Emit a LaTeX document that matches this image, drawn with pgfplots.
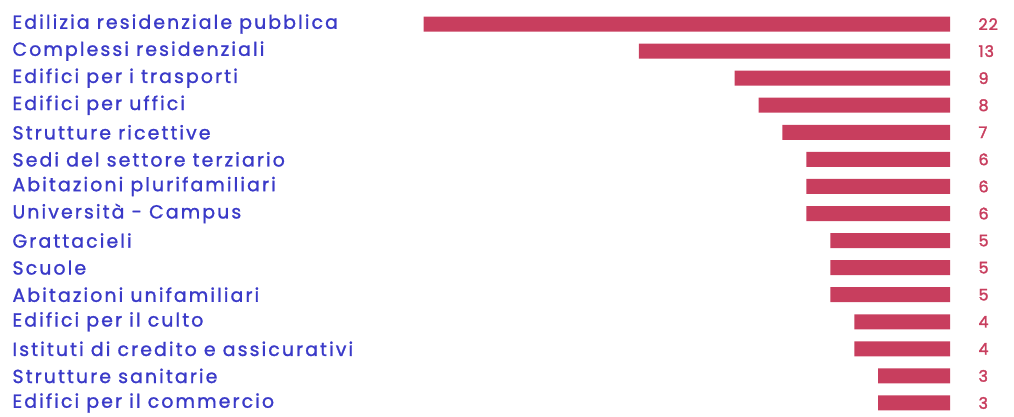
\documentclass[border=0pt]{standalone}
\usepackage{fontspec}
\setmainfont{Poppins}
\newfontfamily\labfont{Poppins}[FakeBold=1.2, LetterSpace=11]
\newfontfamily\valfont{Poppins}[FakeBold=2, LetterSpace=6]
\usepackage{pgfplots}
\usepackage{pgfplotstable}
\pgfplotsset{compat=1.18}
\definecolor{barc}{RGB}{200,62,94}
\definecolor{labc}{RGB}{58,58,200}
\pgfplotstableread{
idx value
0 22
1 13
2 9
3 8
4 7
5 6
6 6
7 6
8 5
9 5
10 5
11 4
12 4
13 3
14 3
}\data
\begin{document}
\begin{tikzpicture}[x=1bp,y=1bp]
\useasboundingbox (0,0) rectangle (1014,-416);
\begin{axis}[at={(390bp,-10.5bp)}, anchor=north west, scale only axis,
  width=560bp, height=406bp,
  x dir=reverse, xmin=0, xmax=23.4, ymin=-0.5, ymax=14.5, y dir=reverse,
  axis line style={draw=none}, tick style={draw=none}, xtick=\empty,
  ytick={0,...,14},
  /pgf/number format/assume math mode=true,
  yticklabels={Edilizia residenziale pubblica, Complessi residenziali, Edifici per i trasporti, Edifici per uffici, Strutture ricettive, Sedi del settore terziario, Abitazioni plurifamiliari, Università - Campus, Grattacieli, Scuole, Abitazioni unifamiliari, Edifici per il culto, Istituti di credito e assicurativi, Strutture sanitarie, Edifici per il commercio},
  yticklabel style={anchor=west, xshift=-381bp, text=labc, font=\labfont\fontsize{19}{21}\selectfont},
  clip=false]
\addplot[xbar, bar width=15bp, draw=none, fill=barc] table[x=value, y=idx]{\data};
\addplot[only marks, mark=none, nodes near coords, point meta=explicit,
  nodes near coords style={anchor=west, xshift=25bp, text=barc, font=\valfont\fontsize{16}{18}\selectfont}]
  table[x expr=0, y=idx, meta=value]{\data};
\end{axis}
\end{tikzpicture}
\end{document}
